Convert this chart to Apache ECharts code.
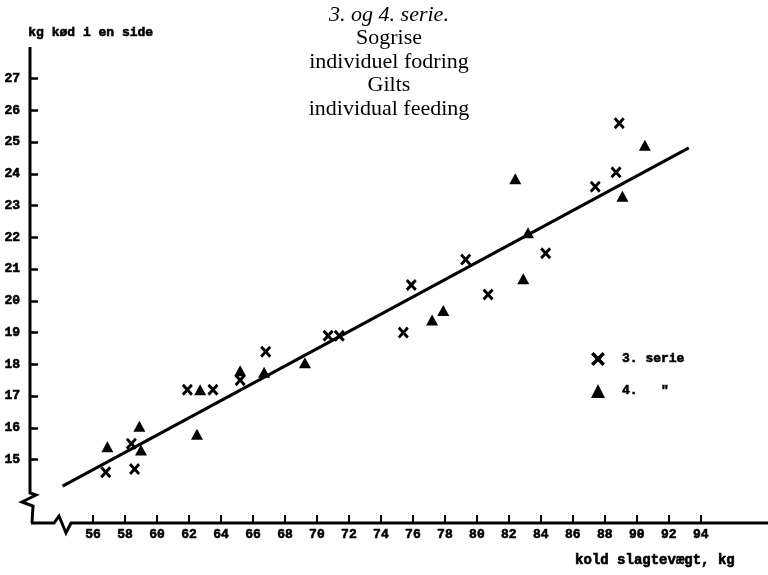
<!DOCTYPE html>
<html>
<head>
<meta charset="utf-8">
<script src="https://cdn.jsdelivr.net/npm/echarts@6/dist/echarts.min.js"></script>
<style>
  html, body { margin: 0; padding: 0; background: #fff; }
  #chart { width: 768px; height: 575px; }
</style>
</head>
<body>
<div id="chart"></div>
<script>
// Cold carcass weight (kg) vs. kg meat in one side, gilts, series 3 and 4
const serie3Weight = [56.8, 58.6, 58.4, 61.9, 63.5, 65.2, 66.8, 70.7, 71.4, 75.4, 75.9, 79.3, 80.7, 84.3, 87.4, 88.7, 88.9];
const serie3Meat   = [14.6, 14.7, 15.5, 17.2, 17.2, 17.5, 18.4, 18.9, 18.9, 19.0, 20.5, 21.3, 20.2, 21.5, 23.6, 24.05, 25.6];
const serie4Weight = [56.9, 59.0, 58.9, 62.5, 62.7, 65.2, 66.7, 69.25, 77.2, 77.9, 82.4, 82.9, 83.2, 89.1, 90.5];
const serie4Meat   = [15.4, 15.3, 16.05, 15.8, 17.2, 17.8, 17.75, 18.05, 19.4, 19.7, 23.85, 20.7, 22.15, 23.3, 24.9];
// Fitted regression line, end points
const fitWeight = [54.1, 93.25];
const fitMeat   = [14.16, 24.82];
// Tick labels
const xTicks = [56, 58, 60, 62, 64, 66, 68, 70, 72, 74, 76, 78, 80, 82, 84, 86, 88, 90, 92, 94];
const yTicks = [15, 16, 17, 18, 19, 20, 21, 22, 23, 24, 25, 26, 27];

const titleLines = ['3. og 4. serie.', 'Sogrise', 'individuel fodring', 'Gilts', 'individual feeding'];
const yName = 'kg kød i en side';
const xName = 'kold slagtevægt, kg';
const legendNames = ['3. serie', '4. serie'];

const monoFont = '"Liberation Mono", "DejaVu Sans Mono", monospace';
const serifFont = '"Liberation Serif", "DejaVu Serif", serif';
const crossPath = 'path://M0,1.8 L1.8,0 L5,3.2 L8.2,0 L10,1.8 L6.8,5 L10,8.2 L8.2,10 L5,6.8 L1.8,10 L0,8.2 L3.2,5 Z';
// Heavier typewriter strokes for the axis lettering
const heavy = { textBorderColor: '#000', textBorderWidth: 0.6 };

const zip = (xs, ys) => xs.map((x, i) => [x, ys[i]]);

const chart = echarts.init(document.getElementById('chart'), null, { renderer: 'canvas' });

const option = {
  backgroundColor: '#ffffff',
  animation: false,
  title: {
    text: titleLines.map((t, i) => (i === 0 ? '{it|' + t + '}' : '{rm|' + t + '}')).join('\n'),
    left: 389,
    top: 3,
    textAlign: 'center',
    padding: 0,
    textStyle: {
      fontWeight: 'normal',
      rich: {
        it: { fontFamily: serifFont, fontStyle: 'italic', fontWeight: 'normal', fontSize: 22, lineHeight: 23.5, color: '#000', align: 'center' },
        rm: { fontFamily: serifFont, fontWeight: 'normal', fontSize: 22, lineHeight: 23.5, color: '#000', align: 'center' }
      }
    }
  },
  legend: {
    orient: 'vertical',
    left: 591,
    top: 352,
    itemWidth: 14,
    itemHeight: 14,
    itemGap: 18,
    padding: 0,
    selectedMode: false,
    itemStyle: { color: '#000', opacity: 1 },
    data: [
      { name: legendNames[0], icon: crossPath },
      { name: legendNames[1], icon: 'triangle' }
    ],
    formatter: name => (name === legendNames[1] ? '4.   "' : name),
    textStyle: Object.assign({ fontFamily: monoFont, fontWeight: 'bold', fontSize: 13, color: '#000', padding: [0, 0, 0, 12] }, heavy)
  },
  grid: { left: 29, right: 0, top: 47, bottom: 52, containLabel: false },
  xAxis: {
    type: 'value',
    min: 52,
    max: 98.2,
    splitLine: { show: false },
    axisLine: { show: false },
    axisTick: { show: true, inside: true, length: 8, customValues: xTicks, lineStyle: { color: '#000', width: 2 } },
    axisLabel: Object.assign({ customValues: xTicks, margin: 5, fontFamily: monoFont, fontWeight: 'bold', fontSize: 13, color: '#000' }, heavy)
  },
  yAxis: {
    type: 'value',
    min: 13,
    max: 28,
    splitLine: { show: false },
    axisLine: { show: false },
    axisTick: { show: true, inside: true, length: 9, customValues: yTicks, lineStyle: { color: '#000', width: 2.5 } },
    axisLabel: Object.assign({ customValues: yTicks, margin: 9, fontFamily: monoFont, fontWeight: 'bold', fontSize: 13, color: '#000' }, heavy)
  },
  series: [
    {
      name: legendNames[0],
      type: 'scatter',
      symbol: crossPath,
      symbolSize: [11, 12],
      itemStyle: { color: '#000', opacity: 1 },
      data: zip(serie3Weight, serie3Meat),
      z: 3
    },
    {
      name: legendNames[1],
      type: 'scatter',
      symbol: 'triangle',
      symbolSize: [12, 11],
      itemStyle: { color: '#000', opacity: 1 },
      data: zip(serie4Weight, serie4Meat),
      z: 3
    },
    {
      name: 'fit',
      type: 'line',
      data: zip(fitWeight, fitMeat),
      showSymbol: false,
      symbol: 'none',
      lineStyle: { color: '#000', width: 3 },
      z: 2
    }
  ]
};

chart.setOption(option);

// Axis lines with break marks, placed from the grid's own scale
const origin = chart.convertToPixel({ gridIndex: 0 }, [52, 13]);
const topPt = chart.convertToPixel({ gridIndex: 0 }, [52, 28]);
const rightPt = chart.convertToPixel({ gridIndex: 0 }, [98.2, 13]);
const ox = origin[0] + 1, oy = origin[1];
const axisStyle = { stroke: '#000', lineWidth: 3, fill: null, lineJoin: 'miter' };

chart.setOption({
  graphic: [
    {
      type: 'polyline',
      shape: { points: [[ox, topPt[1]], [ox, oy - 30], [ox + 6, oy - 28], [ox - 8, oy - 21], [ox + 3, oy - 17], [ox + 2, oy]] },
      style: axisStyle,
      z: 10
    },
    {
      type: 'polyline',
      shape: { points: [[ox + 1, oy], [ox + 24, oy], [ox + 29, oy - 7], [ox + 36, oy + 10], [ox + 41, oy], [rightPt[0], oy]] },
      style: axisStyle,
      z: 10
    },
    {
      type: 'text',
      left: 28,
      top: 26,
      style: { text: yName, font: 'bold 13px ' + monoFont, fill: '#000', stroke: '#000', lineWidth: 0.6 }
    },
    {
      type: 'text',
      right: 33,
      top: 553,
      style: { text: xName, font: 'bold 14px ' + monoFont, fill: '#000', stroke: '#000', lineWidth: 0.6 }
    }
  ]
});
</script>
</body>
</html>
